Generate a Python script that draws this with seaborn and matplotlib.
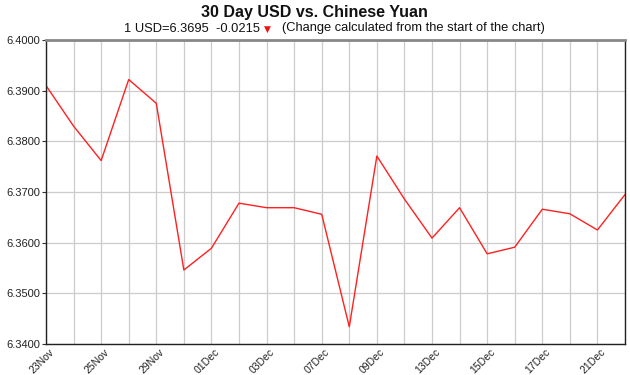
import matplotlib
matplotlib.use("Agg")
import matplotlib.pyplot as plt
import matplotlib.transforms as mtransforms
import seaborn as sns
import pandas as pd
import numpy as np

dates = ["23Nov", "24Nov", "25Nov", "26Nov", "29Nov", "30Nov", "01Dec", "02Dec",
         "03Dec", "06Dec", "07Dec", "08Dec", "09Dec", "10Dec", "13Dec", "14Dec",
         "15Dec", "16Dec", "17Dec", "20Dec", "21Dec", "22Dec"]
rates = [6.3910, 6.3830, 6.3762, 6.3922, 6.3875, 6.3546, 6.3589, 6.3678,
         6.3669, 6.3669, 6.3656, 6.3434, 6.3771, 6.3686, 6.3609, 6.3669,
         6.3578, 6.3591, 6.3666, 6.3657, 6.3625, 6.3695]
y_ticks = [6.34, 6.35, 6.36, 6.37, 6.38, 6.39, 6.40]

df = pd.DataFrame({"idx": np.arange(len(dates)), "rate": rates})

sns.set_style("white")
plt.rcParams["font.family"] = ["Liberation Sans", "DejaVu Sans"]

fig = plt.figure(figsize=(6.3, 3.75), dpi=100)
W, H = 630, 375
ax = fig.add_axes([46 / W, (H - 344) / H, 579 / W, 304 / H])

sns.lineplot(data=df, x="idx", y="rate", ax=ax, color="#ff2020", linewidth=1.0)

ax.set_xlim(0, len(dates) - 1)
ax.set_ylim(y_ticks[0], y_ticks[-1])
ax.set_yticks(y_ticks)
ax.set_yticklabels([f"{v:.4f}" for v in y_ticks], fontsize=8, color="#222222")
ax.set_xticks(np.arange(len(dates)))
ax.set_xticklabels([])

# rotated date labels, anchored just below the axis
base = ax.get_xaxis_transform()
offset = mtransforms.ScaledTranslation(3 / 100, -3 / 100, fig.dpi_scale_trans)
for i, d in enumerate(dates):
    if i % 2 == 0:
        ax.text(i, 0, d, transform=base + offset, rotation=45, ha="right", va="top",
                rotation_mode="anchor", fontsize=7.5, color="#222222", clip_on=False)

ax.grid(True, color="#cccccc", linewidth=0.9)
ax.set_axisbelow(True)
ax.set_xlabel("")
ax.set_ylabel("")
ax.tick_params(axis="y", length=3, width=0.8, color="#333333", pad=1, left=True)
ax.tick_params(axis="x", length=0, bottom=True)
for s in ["left", "bottom", "right"]:
    ax.spines[s].set_color("#222222")
    ax.spines[s].set_linewidth(1.0)
ax.spines["top"].set_color("#888888")
ax.spines["top"].set_linewidth(2.0)

fig.text(314 / W, 1 - 13 / H, "30 Day USD vs. Chinese Yuan", ha="center", va="center",
         fontsize=11.5, fontweight="bold", color="#111111")
fig.text(260 / W, 1 - 28.5 / H, "1 USD=6.3695  -0.0215", ha="right", va="center",
         fontsize=9.3, color="#111111")
fig.text(267.5 / W, 1 - 29 / H, "\u25bc", ha="center", va="center",
         fontsize=6.5, color="#ee1111", family=["DejaVu Sans"])
fig.text(282 / W, 1 - 28.5 / H, "(Change calculated from the start of the chart)",
         ha="left", va="center", fontsize=9.3, color="#111111")

fig.savefig("out.png", dpi=100, facecolor="white")
